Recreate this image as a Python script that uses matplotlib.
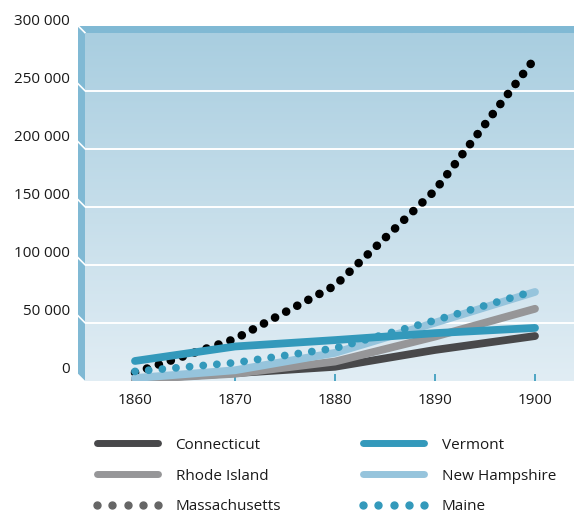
import numpy as np
import matplotlib
matplotlib.use('Agg')
import matplotlib.pyplot as plt
from matplotlib.lines import Line2D
from matplotlib.patches import Polygon
from matplotlib.transforms import ScaledTranslation

plt.rcParams['font.family'] = ['Open Sans', 'DejaVu Sans']

# Data
years = [1860, 1870, 1880, 1890, 1900]
connecticut = [1500, 6500, 12000, 26500, 38500]
rhode_island = [1000, 6000, 16500, 38000, 62000]
massachusetts = [7000, 36000, 82000, 164000, 278000]
vermont = [17000, 29500, 35000, 41000, 45500]
new_hampshire = [2300, 9000, 24000, 50000, 76500]
maine = [8000, 15500, 28000, 52000, 77500]

y_ticks = [0, 50000, 100000, 150000, 200000, 250000, 300000]
x_ticks = [1860, 1870, 1880, 1890, 1900]

W, H = 574, 515
fig = plt.figure(figsize=(W / 100, H / 100), dpi=100)

# decoration layer in pixel coords
bg = fig.add_axes([0, 0, 1, 1], zorder=0)
bg.set_xlim(0, W)
bg.set_ylim(H, 0)
bg.axis('off')

x0, top, bot, d = 85, 32.7, 380.7, 7
wall = '#80b9d4'
bg.add_patch(Polygon([(x0 - d, top - d), (x0, top), (x0, bot), (x0 - d, bot - d)],
                     closed=True, fc=wall, ec='none'))
bg.add_patch(Polygon([(x0 - d, top - d), (W, top - d), (W, top), (x0, top)],
                     closed=True, fc=wall, ec='none'))
bg.plot([x0 - d, x0], [top - d, top], color='white', lw=1.2)

# main axes = back wall
ax = fig.add_axes([x0 / W, 1 - bot / H, (W - x0) / W, (bot - top) / H], zorder=1)
ax.patch.set_alpha(0)
ax.set_xlim(1855, 1903.9)
ax.set_ylim(0, 300000)

grad = np.linspace(0, 1, 256)[:, None]
cmap = matplotlib.colors.LinearSegmentedColormap.from_list('wall', ['#e1edf4', '#a9cee0'])
ax.imshow(grad, extent=[1855, 1903.9, 0, 300000], origin='lower', aspect='auto',
          cmap=cmap, zorder=0)

for v in y_ticks[1:-1]:
    ax.axhline(v, color='white', lw=1.4, zorder=1)
    # slanted line on the side wall
    yp = bot - (bot - top) * v / 300000
    bg.plot([x0 - d, x0], [yp - d, yp], color='white', lw=1.2)

for s in ax.spines.values():
    s.set_visible(False)

lw = 5.6
ax.plot(years, connecticut, color='#48484a', lw=lw, solid_capstyle='round', zorder=3)
ax.plot(years, rhode_island, color='#969698', lw=lw, solid_capstyle='round', zorder=3)
ax.plot(years, massachusetts, color='black', lw=6.2, ls=(0, (0.01, 1.45)),
        dash_capstyle='round', zorder=4)
ax.plot(years, new_hampshire, color='#96c4dc', lw=lw, solid_capstyle='round', zorder=5)
ax.plot(years, vermont, color='#3399bb', lw=lw, solid_capstyle='round', zorder=5)
ax.plot(years, maine, color='#3399bb', lw=5.6, ls=(0, (0.01, 1.75)),
        dash_capstyle='round', zorder=6)

ax.set_yticks(y_ticks)
ax.set_yticklabels([f'{v:,}'.replace(',', ' ') for v in y_ticks])
ax.set_xticks(x_ticks)
ax.set_xticklabels([str(x) for x in x_ticks])
ax.tick_params(axis='y', length=0, pad=11, labelsize=11, labelcolor='#1a1a1a')
ax.tick_params(axis='x', direction='in', length=5, width=1.2, color='#3399bb',
               pad=9, labelsize=11, labelcolor='#1a1a1a')
for lab in ax.get_yticklabels():
    lab.set_transform(lab.get_transform() + ScaledTranslation(0, 0.13, fig.dpi_scale_trans))

handles = [
    Line2D([], [], color='#48484a', lw=5),
    Line2D([], [], color='#969698', lw=5),
    Line2D([], [], color='#666666', ls='none', marker='o', ms=5),
    Line2D([], [], color='#3399bb', lw=5),
    Line2D([], [], color='#96c4dc', lw=5),
    Line2D([], [], color='#3399bb', ls='none', marker='o', ms=5),
]
labels = ['Connecticut', 'Rhode Island', 'Massachusetts', 'Vermont', 'New Hampshire', 'Maine']
leg = fig.legend(handles, labels, ncol=2, loc='upper left', bbox_to_anchor=(85 / W, 1 - 430 / H),
                 frameon=False, fontsize=11, handlelength=4.58, handletextpad=0.85,
                 columnspacing=5.07, labelspacing=1.04, numpoints=5, borderpad=0,
                 labelcolor='#1a1a1a')
for h in leg.legend_handles:
    h.set_solid_capstyle('round')

fig.savefig('out.png', dpi=100)
